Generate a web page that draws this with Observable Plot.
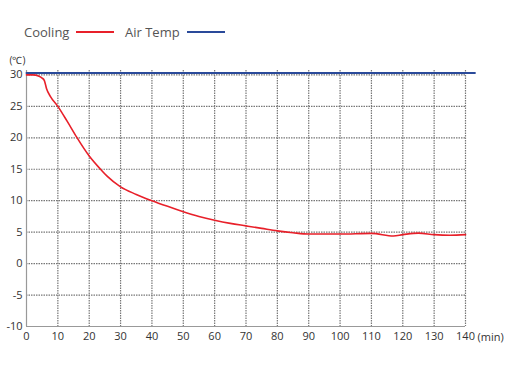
<!DOCTYPE html>
<html><head><meta charset="utf-8">
<script src="https://cdn.jsdelivr.net/npm/d3@7"></script>
<script src="https://cdn.jsdelivr.net/npm/@observablehq/plot@0.6"></script>
<style>
body{margin:0;background:#fff;font-family:"Open Sans",sans-serif;}
#legend{position:relative;height:50px;width:512px;font-size:13px;color:#555;}
#legend .item{position:absolute;top:23px;display:flex;align-items:center;}
#legend .sw{display:inline-block;width:38px;height:2px;margin-left:7px;}
svg{display:block;}
</style></head>
<body>
<div id="legend"></div>
<div id="chart"></div>
<script>
const seriesNames = ["Cooling", "Air Temp"];
const seriesColors = ["#e8202a", "#2a4a9a"];
const coolingTime = [0, 2, 4, 5, 5.7, 6.4, 7.6, 10, 13, 16, 20, 23.6, 25.7, 30, 35, 40, 45, 50, 55, 60, 65, 70, 75, 80, 85, 90, 100, 110, 117, 120, 125, 130, 135, 140];
const coolingTemp = [30.0, 30.0, 29.8, 29.5, 29.1, 27.8, 26.6, 25, 22.6, 20.1, 17.1, 15, 13.9, 12.2, 11.0, 10.0, 9.1, 8.25, 7.5, 6.9, 6.4, 6.0, 5.6, 5.2, 4.9, 4.7, 4.7, 4.8, 4.4, 4.6, 4.85, 4.6, 4.5, 4.6];
const airTime = [0, 143];
const airTemp = [30.3, 30.3];
const xTicks = [0, 10, 20, 30, 40, 50, 60, 70, 80, 90, 100, 110, 120, 130, 140];
const yTicks = [-10, -5, 0, 5, 10, 15, 20, 25, 30];

const cooling = coolingTime.map((t, i) => ({t, v: coolingTemp[i]}));
const air = airTime.map((t, i) => ({t, v: airTemp[i]}));

// legend
const leg = document.getElementById("legend");
const legX = [24, 125];
seriesNames.forEach((n, i) => {
  const d = document.createElement("div");
  d.className = "item";
  d.style.left = legX[i] + "px";
  d.innerHTML = `<span>${n}</span><span class="sw" style="background:${seriesColors[i]}"></span>`;
  leg.appendChild(d);
});

const grid = {stroke: "#777", strokeWidth: 1.2, strokeDasharray: "1.5,1"};
const plot = Plot.plot({
  width: 512,
  height: 340,
  marginLeft: 26,
  marginRight: 47,
  marginTop: 20,
  marginBottom: 64,
  style: {fontFamily: "'Open Sans', sans-serif", fontSize: "11px", color: "#333"},
  x: {domain: [0, 140], label: null, axis: null},
  y: {domain: [-10, 30.7], label: null, axis: null},
  marks: [
    Plot.ruleX(xTicks.filter(d => d > 0), {...grid}),
    Plot.ruleY(yTicks.filter(d => d > -10), {x1: 0, x2: 140, ...grid}),
    Plot.ruleX([0], {stroke: "#999", strokeWidth: 1.2}),
    Plot.ruleY([-10], {x1: 0, x2: 140, stroke: "#999", strokeWidth: 1.2}),
    Plot.axisY({ticks: yTicks, tickSize: 0, tickPadding: 4, label: null, fill: "#333", tickFormat: d => String(d)}),
    Plot.axisX({ticks: xTicks, tickSize: 0, tickPadding: 6, label: null, fill: "#333", tickFormat: d => String(d)}),
    Plot.text(["(min)"], {x: 140, y: -10, dx: 12, dy: 11, fill: "#333", textAnchor: "start", lineAnchor: "middle"}),
    Plot.text(["(℃)"], {x: 0, y: 30.7, dx: -9, dy: -10, fill: "#333", fontSize: 10}),
    Plot.line(cooling, {x: "t", y: "v", stroke: seriesColors[0], strokeWidth: 1.6, curve: "monotone-x"}),
    Plot.line(air, {x: "t", y: "v", stroke: seriesColors[1], strokeWidth: 2})
  ]
});
document.getElementById("chart").appendChild(plot);
</script>
</body></html>
